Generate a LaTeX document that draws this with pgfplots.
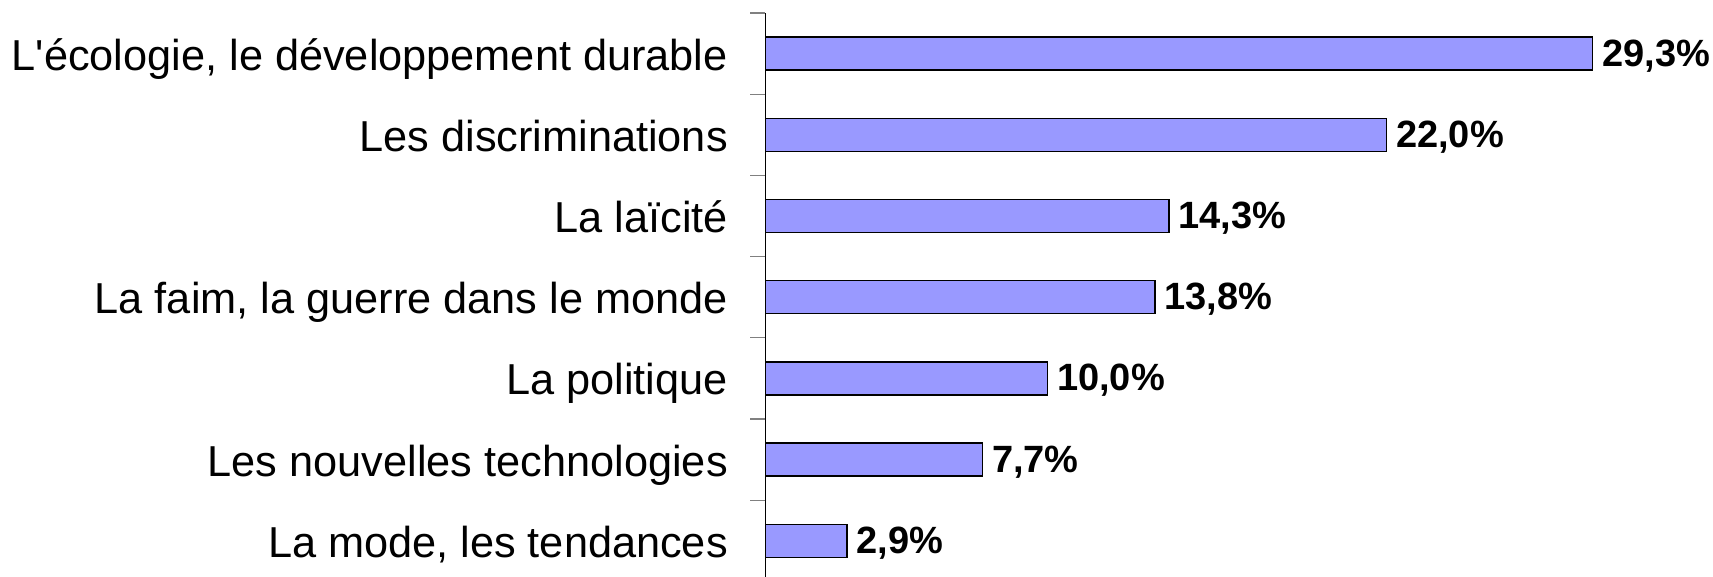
\documentclass[border=0pt]{standalone}
\usepackage{pgfplots}
\pgfplotsset{compat=1.18}
\usepackage{fontspec}
\setmainfont{Liberation Sans}
\definecolor{barblue}{HTML}{9999FF}
\begin{document}
\begin{tikzpicture}
\path[use as bounding box] (0,0) rectangle (1713pt,576pt);
\clip (0,0) rectangle (1713pt,576pt);
\begin{axis}[
  at={(765pt,563pt)}, anchor=north west,
  scale only axis,
  x=28.25pt, y=81.2pt, y dir=reverse,
  xmin=0, xmax=33, ymin=-0.5, ymax=6.5,
  xbar, bar width=33pt,
  axis x line=none, axis y line*=left,
  axis line style={black, line width=1pt, -},
  ytick={0,...,6},
  yticklabels={{L\textquotesingle écologie, le développement durable},{Les discriminations},{La laïcité},{La faim, la guerre dans le monde},{La politique},{Les nouvelles technologies},{La mode, les tendances}},
  major tick length=0pt,
  minor ytick={-0.5,0.5,...,6.5},
  minor tick length=15pt,
  tick align=outside,
  minor tick style={gray, line width=1.2pt},
  yticklabel style={font=\fontsize{43.3}{50}\selectfont, inner sep=0pt, anchor=base east, xshift=-37pt, yshift=-16.5pt},
  point meta=x,
  nodes near coords={\pgfmathprintnumber[fixed,fixed zerofill,precision=1,use comma,assume math mode=true]{\pgfplotspointmeta}\%},
  nodes near coords style={font=\fontsize{38}{44}\selectfont\bfseries, anchor=base west, inner sep=0pt, xshift=9pt, yshift=-12.5pt},
]
\addplot[fill=barblue, draw=black, line width=1.3pt] coordinates {
  (29.3,0) (22.0,1) (14.3,2) (13.8,3) (10.0,4) (7.7,5) (2.9,6)
};
\end{axis}
\end{tikzpicture}
\end{document}
